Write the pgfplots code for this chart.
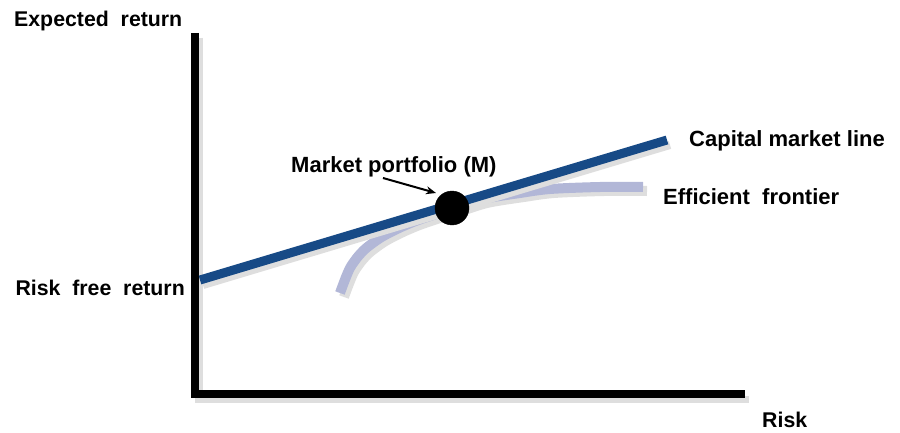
\documentclass[border=0pt]{standalone}
\usepackage{pgfplots}
\pgfplotsset{compat=1.18}
\usetikzlibrary{arrows.meta}
\usepackage{fontspec}
\setmainfont{Liberation Sans}
\definecolor{cml}{HTML}{174A86}
\definecolor{ef}{HTML}{B2B7D7}
\definecolor{shd}{HTML}{DEDEDE}
\tikzset{lbl/.style={font=\bfseries\fontsize{22}{26}\selectfont, inner sep=0pt},
         lbls/.style={font=\bfseries\fontsize{21.3}{26}\selectfont, inner sep=0pt}}
\begin{document}
\begin{tikzpicture}
\begin{axis}[hide axis, scale only axis, width=900pt, height=432pt,
  xmin=0, xmax=900, ymin=0, ymax=432, clip=false]
% axes shadow
\addplot[shd, line width=7pt, no marks] coordinates {(199,394) (199,34) };
\addplot[shd, line width=7pt, no marks] coordinates {(195,33) (749,33)};
% axes
\addplot[black, line width=8pt, no marks] coordinates {(195,399) (195,38) (745,38)};
% efficient frontier shadow
\addplot[shd, line width=10pt, no marks, smooth] coordinates {
 (344,135) (354,160) (367,177) (384,190) (401,199) (417,206) (434,212) (456,219)
 (487,229) (524,235) (554,239) (604,241) (647,241)};
% efficient frontier
\addplot[ef, line width=10pt, no marks, smooth] coordinates {
 (340,139) (350,164) (363,181) (380,194) (397,203) (413,210) (430,216) (452,223)
 (483,233) (520,239) (550,243) (600,245) (643,245)};
% CML shadow
\addplot[shd, line width=8pt, no marks] coordinates {(203,147) (670,287)};
% CML
\addplot[cml, line width=9pt, no marks] coordinates {(200,152) (667,292)};
% market portfolio
\addplot[only marks, mark=*, mark size=17pt, black] coordinates {(452,224)};
% arrow
\addplot[black, line width=2pt, -{Stealth[length=10pt,width=8pt]}, no marks] coordinates {(383,254) (436,239)};
% labels
\node[lbls, anchor=base west] at (axis cs:14,405) {Expected\ \ return};
\node[lbls, anchor=base east] at (axis cs:185,137) {Risk\ \ free\ \ return};
\node[lbl, anchor=base west] at (axis cs:689,285) {Capital market line};
\node[lbl, anchor=base west] at (axis cs:663,228) {Efficient\ \ frontier};
\node[lbl, anchor=base west] at (axis cs:291,260) {Market portfolio (M)};
\node[lbls, anchor=base west] at (axis cs:762,5) {Risk};
\end{axis}
\pgfresetboundingbox
\useasboundingbox (current axis.south west) rectangle (current axis.north east);
\end{tikzpicture}
\end{document}
